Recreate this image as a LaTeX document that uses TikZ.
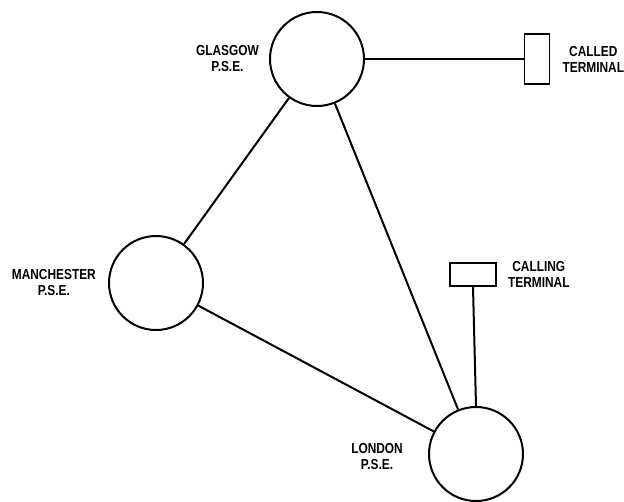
\documentclass[tikz,border=0pt]{standalone}
\usepackage{fontspec}
\setmainfont{Liberation Sans}[FakeStretch=0.82]
\usetikzlibrary{positioning}

\begin{document}
\begin{tikzpicture}[
      x=1pt, y=-1pt,
      pse/.style={draw, circle, line width=2pt, minimum size=94pt, inner sep=0pt},
      term/.style={draw, rectangle, line width=1.8pt, inner sep=0pt},
      lbl/.style={align=center, inner sep=0pt, font=\bfseries\fontsize{14.5}{16}\selectfont},
      ln/.style={line width=2pt}
    ]
    \useasboundingbox (0,0) rectangle (624,501);
    \node[pse] (glas) at (317,59) {};
    \node[pse] (manc) at (156,283) {};
    \node[pse] (lond) at (476,454) {};
    \node[term, minimum width=25pt, minimum height=50pt] (called) at (537,59) {};
    \node[term, minimum width=46pt, minimum height=23pt] (calling) at (473,274.5) {};
    \node[lbl, left=10pt of glas] (glaslbl) {GLASGOW\\P.S.E.};
    \node[lbl, left=12pt of manc] (manclbl) {MANCHESTER\\P.S.E.};
    \node[lbl, anchor=east] (londlbl) at (403,457) {LONDON\\P.S.E.};
    \node[lbl, right=12pt of called] (calledlbl) {CALLED\\TERMINAL};
    \node[lbl, right=11pt of calling] (callinglbl) {CALLING\\TERMINAL};
    \draw[ln] (glas) -- (manc); \draw[ln] (glas) -- (lond); \draw[ln] (manc) -- (lond);
    \draw[ln] (glas) -- (called); \draw[ln] (calling.south) -- (lond.north);
  \end{tikzpicture}
\end{document}
